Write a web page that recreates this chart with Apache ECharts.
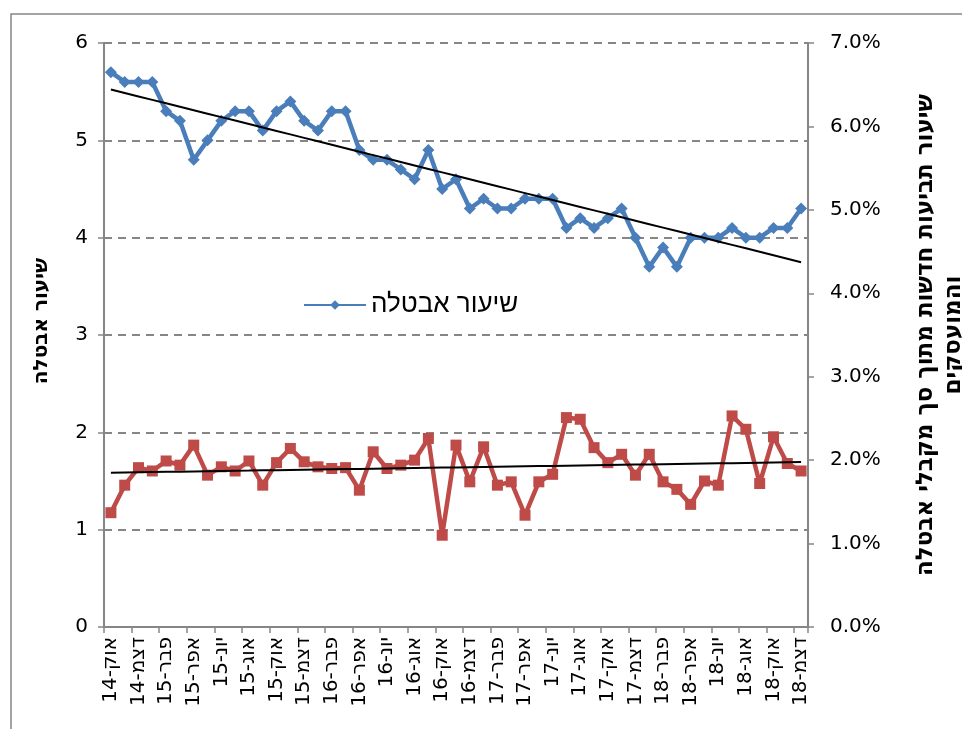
<!DOCTYPE html>
<html><head><meta charset="utf-8">
<script src="https://cdn.jsdelivr.net/npm/echarts@6/dist/echarts.min.js"></script>
<style>html,body{margin:0;padding:0;background:#fff}#c{width:962px;height:729px}</style>
</head><body><div id="c"></div>
<script>
const categories = ['אוק-14','נוב-14','דצמ-14',
 'ינו-15','פבר-15','מרץ-15','אפר-15','מאי-15','יונ-15','יול-15','אוג-15','ספט-15','אוק-15','נוב-15','דצמ-15',
 'ינו-16','פבר-16','מרץ-16','אפר-16','מאי-16','יונ-16','יול-16','אוג-16','ספט-16','אוק-16','נוב-16','דצמ-16',
 'ינו-17','פבר-17','מרץ-17','אפר-17','מאי-17','יונ-17','יול-17','אוג-17','ספט-17','אוק-17','נוב-17','דצמ-17',
 'ינו-18','פבר-18','מרץ-18','אפר-18','מאי-18','יונ-18','יול-18','אוג-18','ספט-18','אוק-18','נוב-18','דצמ-18'];
const unemployment = [5.7,5.6,5.6,5.6,5.3,5.2,4.8,5.0,5.2,5.3,5.3,5.1,5.3,5.4,5.2,5.1,5.3,5.3,4.9,4.8,4.8,4.7,4.6,4.9,4.5,4.6,4.3,
 4.4,4.3,4.3,4.4,4.4,4.4,4.1,4.2,4.1,4.2,4.3,4.0,3.7,3.9,3.7,4.0,4.0,4.0,4.1,4.0,4.0,4.1,4.1,4.3];
const newClaimsPct = [1.37,1.70,1.91,1.87,1.99,1.94,2.18,1.82,1.92,1.87,1.99,1.70,1.97,2.14,1.98,1.92,1.90,1.91,1.64,2.10,1.90,1.94,2.00,2.26,1.10,2.18,1.74,
 2.16,1.70,1.74,1.34,1.74,1.83,2.51,2.49,2.15,1.97,2.07,1.82,2.07,1.74,1.65,1.47,1.75,1.70,2.53,2.37,1.72,2.28,1.96,1.87];
const leftTicks = {min:0, max:6, interval:1};
const rightTicks = {min:0, max:7, interval:1};
const seriesName1 = 'שיעור אבטלה';
const leftAxisName = 'שיעור אבטלה';
const rightAxisName = 'שיעור תביעות חדשות מתוך סך מקבלי אבטלה\nוהמועסקים';

function trend(arr){
  const n = arr.length; let sx=0,sy=0,sxy=0,sxx=0;
  arr.forEach((y,i)=>{sx+=i;sy+=y;sxy+=i*y;sxx+=i*i;});
  const b=(n*sxy-sx*sy)/(n*sxx-sx*sx), a=(sy-b*sx)/n;
  return arr.map((_,i)=>+(a+b*i).toFixed(4));
}
const FONT = 'DejaVu Sans, Liberation Sans, sans-serif';
const HFONT = 'Liberation Sans, DejaVu Sans, sans-serif';
const GRAY = '#868686';
const chart = echarts.init(document.getElementById('c'), null, {renderer:'canvas'});
chart.setOption({
  animation:false,
  backgroundColor:'#fff',
  textStyle:{fontFamily:FONT},
  graphic:[{type:'rect', shape:{x:11,y:14,width:1000,height:1000}, style:{fill:'none',stroke:GRAY,lineWidth:1.5}, silent:true}],
  grid:{left:104,right:154,top:43,bottom:102,containLabel:false, outerBoundsMode:'none'},
  legend:{show:true, data:[seriesName1], left:298, top:287, itemWidth:62, itemHeight:12, itemGap:8,
    textStyle:{fontSize:26, color:'#000', fontFamily:HFONT}},
  xAxis:{type:'category', data:categories, boundaryGap:true,
    axisLine:{show:true, lineStyle:{color:GRAY,width:2}},
    axisTick:{show:true, interval:1, length:6, lineStyle:{color:GRAY,width:1.5}},
    axisLabel:{interval:1, rotate:90, fontSize:20, color:'#000', margin:10, fontFamily:FONT},
    splitLine:{show:false}},
  yAxis:[
   {type:'value', min:leftTicks.min, max:leftTicks.max, interval:leftTicks.interval, position:'left',
    name:leftAxisName, nameLocation:'middle', nameGap:52, nameRotate:90,
    nameTextStyle:{fontSize:20, fontWeight:'bold', color:'#000', fontFamily:FONT, padding:[0,0,0,28]},
    axisLine:{show:true, lineStyle:{color:GRAY,width:2}},
    axisTick:{show:true, length:6, lineStyle:{color:GRAY,width:1.5}},
    axisLabel:{fontSize:20, color:'#000', margin:16, fontFamily:FONT},
    splitLine:{show:true, lineStyle:{color:GRAY, width:2, type:[8,6]}}},
   {type:'value', min:rightTicks.min, max:rightTicks.max, interval:rightTicks.interval, position:'right',
    name:rightAxisName, nameLocation:'middle', nameGap:104, nameRotate:90,
    nameTextStyle:{fontSize:23, fontWeight:'bold', color:'#000', lineHeight:28, align:'center', fontFamily:FONT},
    axisLine:{show:true, lineStyle:{color:GRAY,width:2}},
    axisTick:{show:true, length:6, lineStyle:{color:GRAY,width:1.5}},
    axisLabel:{fontSize:20, color:'#000', margin:22, fontFamily:FONT, formatter:v=>v.toFixed(1)+'%'},
    splitLine:{show:false}}
  ],
  series:[
   {name:seriesName1, type:'line', data:unemployment, yAxisIndex:0, symbol:'diamond', symbolSize:12, showAllSymbol:true,
    itemStyle:{color:'#4a7ebb'}, lineStyle:{color:'#4a7ebb', width:4.5}, z:3},
   {name:'claims', type:'line', data:newClaimsPct, yAxisIndex:1, symbol:'rect', symbolSize:11, showAllSymbol:true,
    itemStyle:{color:'#be4b48'}, lineStyle:{color:'#be4b48', width:4.5}, z:3},
   {name:'trend1', type:'line', data:trend(unemployment), yAxisIndex:0, symbol:'none',
    lineStyle:{color:'#000', width:2}, z:5},
   {name:'trend2', type:'line', data:trend(newClaimsPct), yAxisIndex:1, symbol:'none',
    lineStyle:{color:'#000', width:2}, z:5}
  ]
});
</script></body></html>
